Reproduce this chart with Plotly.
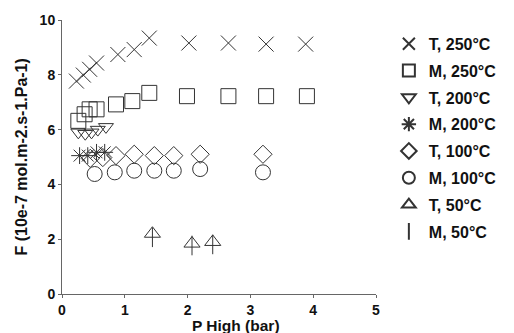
import plotly.graph_objects as go

# Permeance F (10e-7 mol.m-2.s-1.Pa-1) versus high-side pressure (bar)
t250_p = [0.23, 0.34, 0.44, 0.55, 0.89, 1.15, 1.39, 2.02, 2.65, 3.25, 3.88]
t250_f = [7.77, 7.99, 8.20, 8.43, 8.74, 8.92, 9.34, 9.16, 9.16, 9.12, 9.12]

m250_p = [0.26, 0.36, 0.44, 0.55, 0.86, 1.12, 1.39, 1.99, 2.65, 3.25, 3.90]
m250_f = [6.32, 6.56, 6.74, 6.74, 6.92, 7.04, 7.34, 7.22, 7.22, 7.22, 7.22]

t200_p = [0.26, 0.37, 0.47, 0.57, 0.70]
t200_f = [5.90, 5.85, 5.90, 6.00, 6.10]

m200_p = [0.28, 0.41, 0.55, 0.68]
m200_f = [5.05, 5.05, 5.17, 5.17]

t100_p = [0.45, 0.65, 0.86, 1.15, 1.47, 1.78, 2.20, 3.20]
t100_f = [4.95, 4.98, 5.05, 5.10, 5.05, 5.05, 5.10, 5.10]

m100_p = [0.52, 0.84, 1.15, 1.47, 1.78, 2.20, 3.20]
m100_f = [4.38, 4.44, 4.50, 4.50, 4.50, 4.56, 4.44]

t50_p = [1.44, 2.07, 2.40]
t50_f = [2.20, 1.84, 1.90]

m50_p = [1.44, 2.07, 2.40]
m50_f = [2.07, 1.77, 1.81]

series = [
    ("T, 250°C", t250_p, t250_f, "x-thin-open", 15),
    ("M, 250°C", m250_p, m250_f, "square-open", 15),
    ("T, 200°C", t200_p, t200_f, "triangle-down-open", 13),
    ("M, 200°C", m200_p, m200_f, "asterisk-open", 14),
    ("T, 100°C", t100_p, t100_f, "diamond-open", 14),
    ("M, 100°C", m100_p, m100_f, "circle-open", 15),
    ("T, 50°C", t50_p, t50_f, "triangle-up-open", 14),
    ("M, 50°C", m50_p, m50_f, "line-ns-open", 14),
]

FONT = "Liberation Sans, Arial, sans-serif"
INK = "#333333"
TEXT = "#111111"

fig = go.Figure()
for name, px, fy, sym, size in series:
    fig.add_trace(go.Scatter(
        x=px, y=fy, mode="markers", name=name, legendgroup=name,
        marker=dict(symbol=sym, size=size, color=INK,
                    line=dict(color=INK, width=1)),
    ))

axis_common = dict(
    showgrid=False, zeroline=False, showline=True, linecolor="#666666",
    linewidth=1, ticks="outside", ticklen=3, tickcolor="#666666",
    tickfont=dict(family=FONT, size=14, color=TEXT, weight="bold"),
)

fig.update_layout(
    width=514, height=333,
    margin=dict(l=62, r=135, t=18, b=39),
    paper_bgcolor="white", plot_bgcolor="white",
    xaxis=dict(range=[0, 5], tickvals=[0, 1, 2, 3, 4, 5], **axis_common),
    yaxis=dict(range=[0, 10], tickvals=[0, 2, 4, 6, 8, 10], **axis_common),
    legend=dict(
        x=1.041, xanchor="left", y=0.975, yanchor="top",
        font=dict(family=FONT, size=16, color=TEXT, weight="bold"),
        bgcolor="rgba(0,0,0,0)", tracegroupgap=3, itemsizing="constant",
    ),
    annotations=[
        dict(text="F (10e-7 mol.m-2.s-1.Pa-1)", textangle=-90,
             xref="paper", yref="paper", x=-0.132, y=0.50,
             xanchor="center", yanchor="middle", showarrow=False,
             font=dict(family=FONT, size=16, color=TEXT, weight="bold")),
        dict(text="P High (bar)",
             xref="paper", yref="paper", x=0.554, y=-0.116,
             xanchor="center", yanchor="middle", showarrow=False,
             font=dict(family=FONT, size=15.5, color=TEXT, weight="bold")),
    ],
)

fig.write_html("out.html")
